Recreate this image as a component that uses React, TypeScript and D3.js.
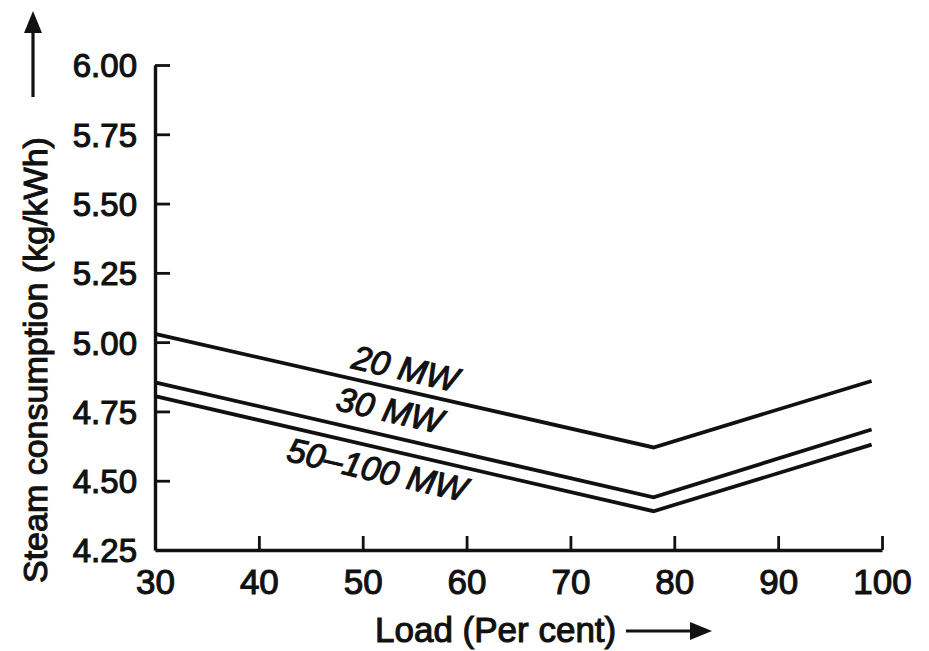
import React, { useEffect, useRef } from 'react';
import * as d3 from 'd3';

// Load (per cent) break points
const loads = [30, 78, 99];
// Steam consumption (kg/kWh)
const mw20 = [5.03, 4.62, 4.86];
const mw30 = [4.855, 4.44, 4.685];
const mw50to100 = [4.805, 4.39, 4.63];

const seriesNames = ['20 MW', '30 MW', '50–100 MW'];
// label centre in data units (load, kg/kWh)
const labelLoads = [54.1, 52.6, 51.4];
const labelValues = [4.905, 4.755, 4.54];

const xTicks = [30, 40, 50, 60, 70, 80, 90, 100];
const yTicks = [4.25, 4.5, 4.75, 5.0, 5.25, 5.5, 5.75, 6.0];

const W = 929;
const H = 651;
const FONT = '"Liberation Sans", Arial, Helvetica, sans-serif';
const INK = '#111';

export default function App() {
  const svgRef = useRef<SVGSVGElement>(null);

  useEffect(() => {
    document.body.style.margin = '0';
    if (!svgRef.current) return;
    const svg = d3.select(svgRef.current);
    svg.selectAll('*').remove();

    const x = d3.scaleLinear().domain([30, 100]).range([155, 882]);
    const y = d3.scaleLinear().domain([4.25, 6.0]).range([550, 65]);

    svg.append('rect').attr('width', W).attr('height', H).attr('fill', '#fff');

    // axes with inward ticks
    const xAxis = svg.append('g')
      .attr('transform', `translate(0,${y(4.25)})`)
      .call(d3.axisBottom(x).tickValues(xTicks).tickSize(-14).tickSizeOuter(0).tickFormat(d3.format('d')));
    const yAxis = svg.append('g')
      .attr('transform', `translate(${x(30)},0)`)
      .call(d3.axisLeft(y).tickValues(yTicks).tickSize(-15).tickSizeOuter(0).tickFormat(d3.format('.2f')));

    [xAxis, yAxis].forEach(a => {
      a.select('.domain').attr('stroke', INK).attr('stroke-width', 3.4);
      a.selectAll('.tick line').attr('stroke', INK).attr('stroke-width', 2.8);
      a.selectAll('.tick text')
        .attr('fill', INK)
        .attr('stroke', INK)
        .attr('stroke-width', 1.1)
        .style('font-family', FONT);
    });
    xAxis.selectAll('.tick text').style('font-size', '35px').attr('y', 44).attr('dy', 0);
    yAxis.selectAll('.tick text').style('font-size', '33px').attr('x', -18).attr('dy', '0.36em');
    // hide tick lines lying on the other axis
    xAxis.selectAll('.tick').filter((d: any) => d === 30).select('line').remove();
    yAxis.selectAll('.tick').filter((d: any) => d === 4.25).select('line').remove();

    // series lines
    const allSeries = [mw20, mw30, mw50to100];
    const line = d3.line<number>()
      .x((_, i) => x(loads[i]))
      .y(d => y(d));
    allSeries.forEach(vals => {
      svg.append('path')
        .attr('d', line(vals))
        .attr('fill', 'none')
        .attr('stroke', INK)
        .attr('stroke-width', 3.8)
        .attr('stroke-linejoin', 'miter');
    });

    // series labels, rotated along the falling branch
    allSeries.forEach((vals, i) => {
      const angle = Math.atan2(y(vals[1]) - y(vals[0]), x(loads[1]) - x(loads[0])) * 180 / Math.PI;
      svg.append('text')
        .attr('transform', `translate(${x(labelLoads[i])},${y(labelValues[i])}) rotate(${angle})`)
        .attr('text-anchor', 'middle')
        .attr('dy', '0.35em')
        .style('font-family', FONT)
        .style('font-size', '34px')
        .style('font-style', 'italic')
        .attr('fill', INK)
        .attr('stroke', INK)
        .attr('stroke-width', 1.1)
        .text(seriesNames[i]);
    });

    // x title with arrow
    svg.append('text')
      .attr('x', 375)
      .attr('y', 642)
      .style('font-family', FONT)
      .style('font-size', '35px')
      .attr('fill', INK)
      .attr('stroke', INK)
      .attr('stroke-width', 1.1)
      .text('Load (Per cent)');
    svg.append('line')
      .attr('x1', 626).attr('x2', 695)
      .attr('y1', 631).attr('y2', 631)
      .attr('stroke', INK)
      .attr('stroke-width', 3.2);
    svg.append('path')
      .attr('d', 'M712,631 L690,622 L690,640 Z')
      .attr('fill', INK);

    // y title with arrow
    svg.append('text')
      .attr('transform', 'translate(47,583) rotate(-90)')
      .style('font-family', FONT)
      .style('font-size', '34px')
      .attr('fill', INK)
      .attr('stroke', INK)
      .attr('stroke-width', 1.1)
      .text('Steam consumption (kg/kWh)');
    svg.append('line')
      .attr('x1', 33).attr('x2', 33)
      .attr('y1', 97).attr('y2', 28)
      .attr('stroke', INK)
      .attr('stroke-width', 3.2);
    svg.append('path')
      .attr('d', 'M33,11 L24,33 L42,33 Z')
      .attr('fill', INK);
  }, []);

  return <svg ref={svgRef} width={W} height={H} style={{ display: 'block' }} />;
}
